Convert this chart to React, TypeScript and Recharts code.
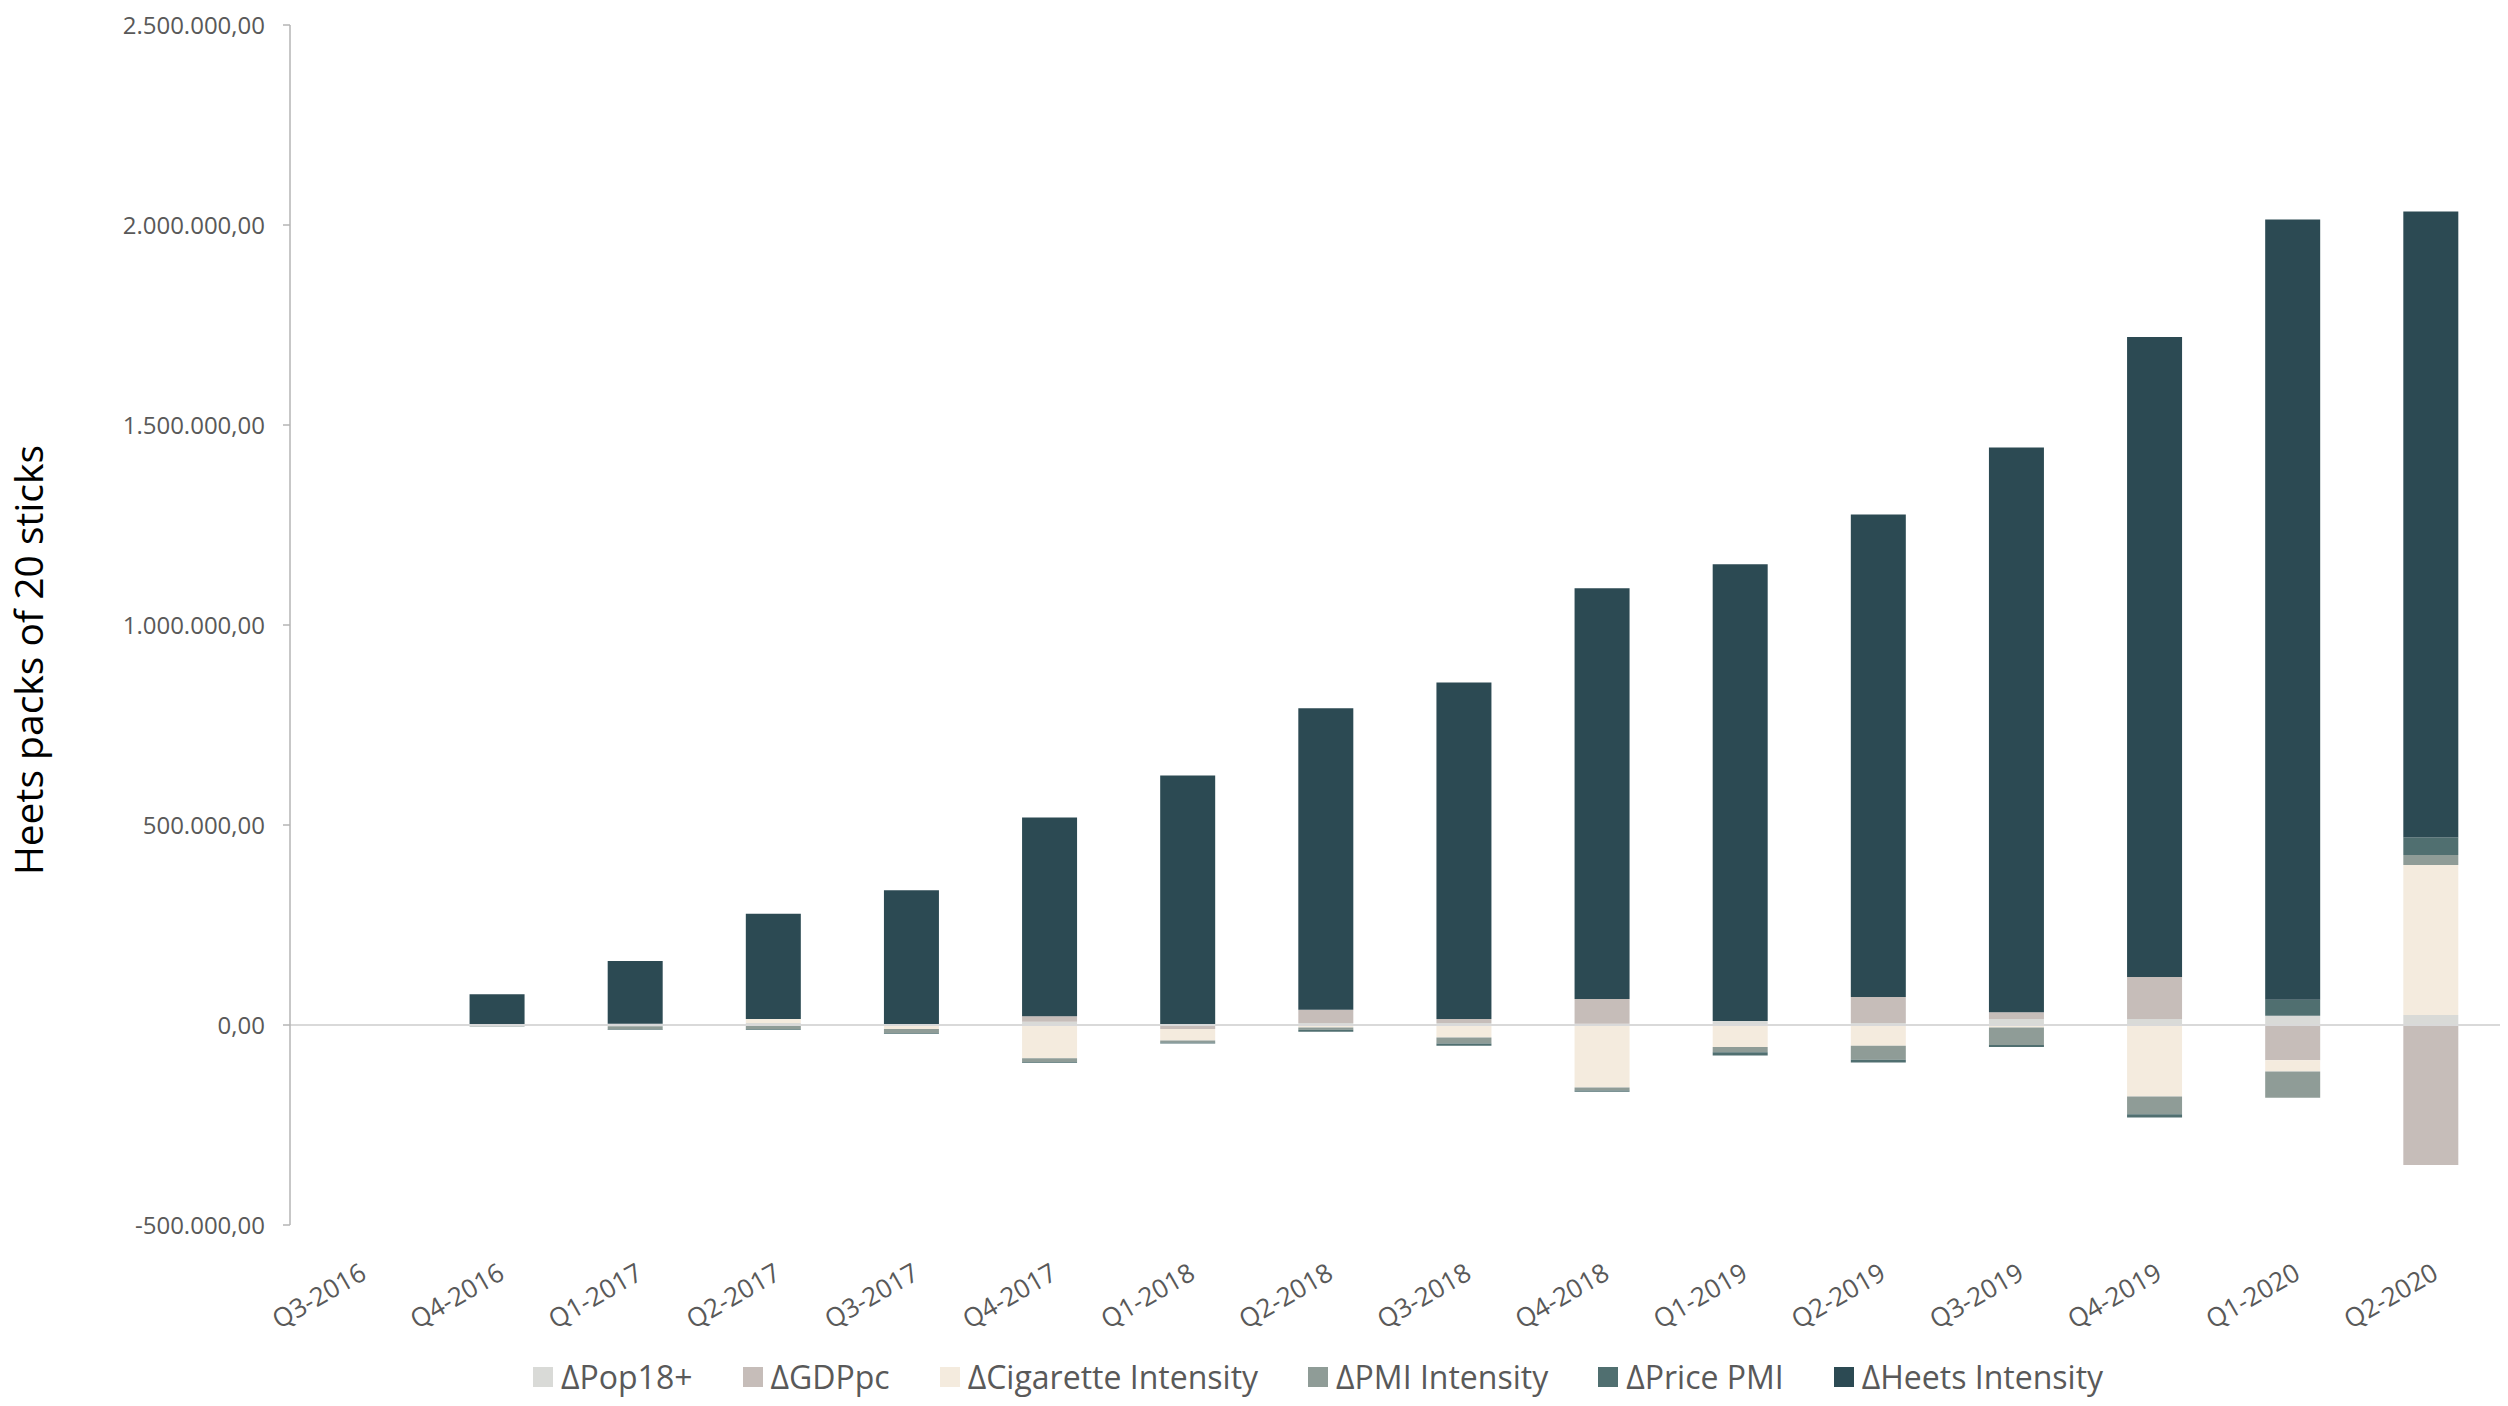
import { BarChart, Bar, XAxis, YAxis, ReferenceLine, Legend, Label } from "recharts";

const quarters = [
  "Q3-2016", "Q4-2016", "Q1-2017", "Q2-2017", "Q3-2017", "Q4-2017", "Q1-2018", "Q2-2018",
  "Q3-2018", "Q4-2018", "Q1-2019", "Q2-2019", "Q3-2019", "Q4-2019", "Q1-2020", "Q2-2020",
];

const pop18 = [0, 0, 3000, 5000, 2000, 8000, 2000, 5000, 5000, 3000, 10000, 5000, 15000, 15000, 23000, 25000];
const gdppc = [0, 0, 0, 0, 0, 14000, -10000, 33000, 10000, 62000, 0, 65000, 17000, 105000, -88000, -350000];
const cigIntensity = [0, -2000, -3000, 10000, -10000, -83000, -29000, -6000, -31000, -156000, -55000, -52000, -6000, -179000, -28000, 375000];
const pmiIntensity = [0, -2000, -8000, -10000, -10000, -10000, -5000, -6000, -15000, -8000, -13000, -35000, -44000, -44000, -66000, 25000];
const pricePmi = [0, 0, -1500, -2000, -2000, -2000, -2000, -5000, -6000, -3000, -8000, -7000, -5000, -8000, 40000, 44000];
const heetsIntensity = [0, 77000, 157000, 263000, 335000, 497000, 622000, 754000, 841000, 1027000, 1142000, 1206000, 1412000, 1600000, 1951000, 1565000];

const yTicks = [-500000, 0, 500000, 1000000, 1500000, 2000000, 2500000];

const series = [
  { key: "pop", name: "ΔPop18+", color: "#d9dad7" },
  { key: "gdp", name: "ΔGDPpc", color: "#c6bdb9" },
  { key: "cig", name: "ΔCigarette Intensity", color: "#f4ebde" },
  { key: "pmi", name: "ΔPMI Intensity", color: "#8f9c97" },
  { key: "price", name: "ΔPrice PMI", color: "#506f70" },
  { key: "heets", name: "ΔHeets Intensity", color: "#2c4a53" },
];

const data = quarters.map((q, i) => ({
  quarter: q,
  pop: pop18[i],
  gdp: gdppc[i],
  cig: cigIntensity[i],
  pmi: pmiIntensity[i],
  price: pricePmi[i],
  heets: heetsIntensity[i],
}));

const FONT = "'Open Sans', sans-serif";

// 2.500.000,00 style
function fmt(v: number) {
  const s = Math.abs(Math.round(v)).toString().replace(/\B(?=(\d{3})+(?!\d))/g, ".");
  return (v < 0 ? "-" : "") + s + ",00";
}

function QuarterTick(props: any) {
  const { x, payload } = props;
  const ax = x + 9;
  const ay = 1278;
  return (
    <text
      x={ax}
      y={ay}
      transform={`rotate(-30, ${ax}, ${ay})`}
      textAnchor="end"
      fontSize={26}
      fontFamily={FONT}
      fill="#595959"
    >
      {payload.value}
    </text>
  );
}

function LegendRow() {
  return (
    <div style={{ display: "flex", alignItems: "center", paddingLeft: 533, fontFamily: FONT, fontSize: 32, color: "#595959" }}>
      {series.map((s) => (
        <div key={s.key} style={{ display: "flex", alignItems: "center", marginRight: 50 }}>
          <span style={{ display: "inline-block", width: 20, height: 20, background: s.color, marginRight: 8 }} />
          {s.name}
        </div>
      ))}
    </div>
  );
}

export default function App() {
  return (
    <div style={{ position: "absolute", left: 0, top: 0, width: 2508, height: 1406, background: "#fff", fontFamily: FONT }}>
      <BarChart
        width={2508}
        height={1406}
        data={data}
        stackOffset="sign"
        barCategoryGap="30%"
        margin={{ top: 25, right: 8, left: 0, bottom: 0 }}
      >
        <XAxis dataKey="quarter" height={181} axisLine={false} tickLine={false} tick={<QuarterTick />} interval={0} />
        <YAxis
          width={290}
          domain={[-500000, 2500000]}
          ticks={yTicks}
          tickFormatter={fmt}
          axisLine={{ stroke: "#b5b5b5", strokeWidth: 1.5 }}
          tickLine={{ stroke: "#b5b5b5", strokeWidth: 1.5 }}
          tickSize={7}
          tickMargin={18}
          tick={{ fontSize: 24, fill: "#595959", fontFamily: FONT }}
        >
          <Label
            content={() => (
              <text
                x={27}
                y={660}
                transform="rotate(-90, 27, 660)"
                textAnchor="middle"
                dominantBaseline="central"
                fontSize={39}
                fontFamily={FONT}
                fill="#000"
              >
                Heets packs of 20 sticks
              </text>
            )}
          />
        </YAxis>
        <ReferenceLine y={0} stroke="#d9d9d9" strokeWidth={2} />
        {series.map((s) => (
          <Bar key={s.key} dataKey={s.key} name={s.name} stackId="a" fill={s.color} isAnimationActive={false} />
        ))}
        <Legend
          layout="horizontal"
          verticalAlign="middle"
          align="center"
          wrapperStyle={{ top: 1355, left: 0, width: 2508 }}
          content={() => <LegendRow />}
        />
      </BarChart>
    </div>
  );
}
